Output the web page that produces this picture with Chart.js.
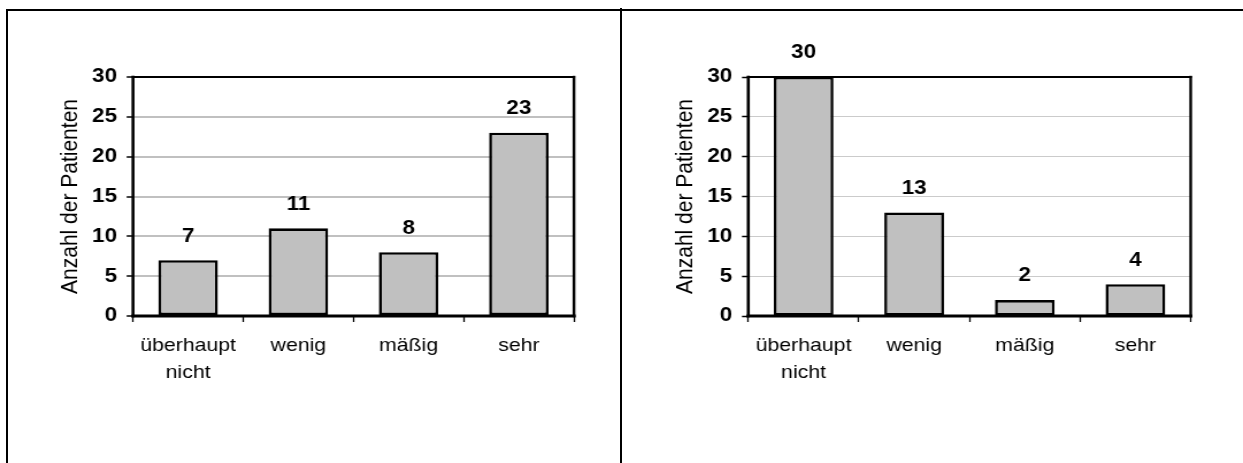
<!DOCTYPE html>
<html>
<head>
<meta charset="utf-8">
<script src="https://cdn.jsdelivr.net/npm/chart.js@4"></script>
<style>
  html, body { margin: 0; padding: 0; background: #fff; }
  body { width: 1243px; height: 463px; position: relative; overflow: hidden; }
  canvas { position: absolute; top: 0; transform: scaleX(1.15); transform-origin: 0 0; }
  #leftChart { left: 0; }
  #rightChart { left: 622px; }
  .rule { position: absolute; background: #000; }
</style>
</head>
<body>
<canvas id="leftChart" width="540" height="463"></canvas>
<canvas id="rightChart" width="540" height="463"></canvas>
<div class="rule" style="left:6px;top:9px;width:1237px;height:2px"></div>
<div class="rule" style="left:6px;top:9px;width:2px;height:454px"></div>
<div class="rule" style="left:620px;top:8px;width:2px;height:455px"></div>
<script>
const categories = [['überhaupt', 'nicht'], 'wenig', 'mäßig', 'sehr'];
const valuesLeft = [7, 11, 8, 23];
const valuesRight = [30, 13, 2, 4];
const yMin = 0;
const yMax = 30;
const yStep = 5;
const yTitle = 'Anzahl der Patienten';

const FONT = '"Liberation Sans", Arial, sans-serif';

// frame around the plot area + the bold numbers above the bars
const plotFrame = {
    id: 'plotFrame',
    afterDatasetsDraw(chart) {
        const { ctx, chartArea: a } = chart;
        ctx.save();
        ctx.strokeStyle = '#000';
        ctx.lineCap = 'square';
        const seg = (w, x1, y1, x2, y2) => {
            ctx.lineWidth = w;
            ctx.beginPath();
            ctx.moveTo(x1, y1);
            ctx.lineTo(x2, y2);
            ctx.stroke();
        };
        seg(2, a.left, a.top, a.right, a.top);
        seg(2.4, a.right, a.top, a.right, a.bottom);
        seg(2.6, a.left, a.top, a.left, a.bottom);
        seg(3, a.left, a.bottom, a.right, a.bottom);

        ctx.fillStyle = '#000';
        ctx.font = 'bold 19.5px ' + FONT;
        ctx.textAlign = 'center';
        ctx.textBaseline = 'middle';
        const values = chart.data.datasets[0].data;
        chart.getDatasetMeta(0).data.forEach((bar, i) => {
            ctx.fillText(String(values[i]), bar.x, bar.y - 24);
        });
        ctx.restore();
    }
};

function makeChart(id, values, cfg) {
    return new Chart(document.getElementById(id), {
        type: 'bar',
        data: {
            labels: categories,
            datasets: [{
                data: values,
                backgroundColor: '#C0C0C0',
                borderColor: '#000',
                borderWidth: 2.6,
                borderSkipped: false,
                categoryPercentage: 1,
                barPercentage: 0.54
            }]
        },
        options: {
            responsive: false,
            animation: false,
            layout: { padding: { left: 0, top: 77, right: cfg.padRight, bottom: 0 } },
            plugins: { legend: { display: false }, tooltip: { enabled: false } },
            scales: {
                x: {
                    afterFit: (s) => { s.height = 147; },
                    border: { display: false },
                    grid: {
                        drawOnChartArea: false,
                        tickLength: 6,
                        tickColor: '#000',
                        tickWidth: 1.3
                    },
                    ticks: {
                        color: '#000',
                        padding: 11,
                        font: { family: FONT, size: 18.5, lineHeight: 1.44 }
                    }
                },
                y: {
                    min: yMin,
                    max: yMax,
                    afterFit: (s) => { s.width = cfg.yWidth; },
                    border: { display: false },
                    grid: {
                        color: cfg.gridColor,
                        lineWidth: cfg.gridWidth,
                        tickLength: 5.5,
                        tickColor: '#000',
                        tickWidth: 1.5
                    },
                    ticks: {
                        stepSize: yStep,
                        color: '#000',
                        padding: 8.4,
                        font: { family: FONT, size: 19.5, weight: 'bold' }
                    },
                    title: {
                        display: true,
                        text: yTitle,
                        color: '#000',
                        padding: { top: cfg.titlePad, bottom: 0 },
                        font: { family: FONT, size: 21, lineHeight: 1.2 }
                    }
                }
            }
        },
        plugins: [plotFrame]
    });
}

makeChart('leftChart', valuesLeft, {
    padRight: 40.9, yWidth: 115.65, titlePad: 48.3,
    gridColor: '#C0C0C0', gridWidth: 2
});
makeChart('rightChart', valuesRight, {
    padRight: 45.5, yWidth: 109.8, titlePad: 43,
    gridColor: '#CBCBCB', gridWidth: 1
});
</script>
</body>
</html>
